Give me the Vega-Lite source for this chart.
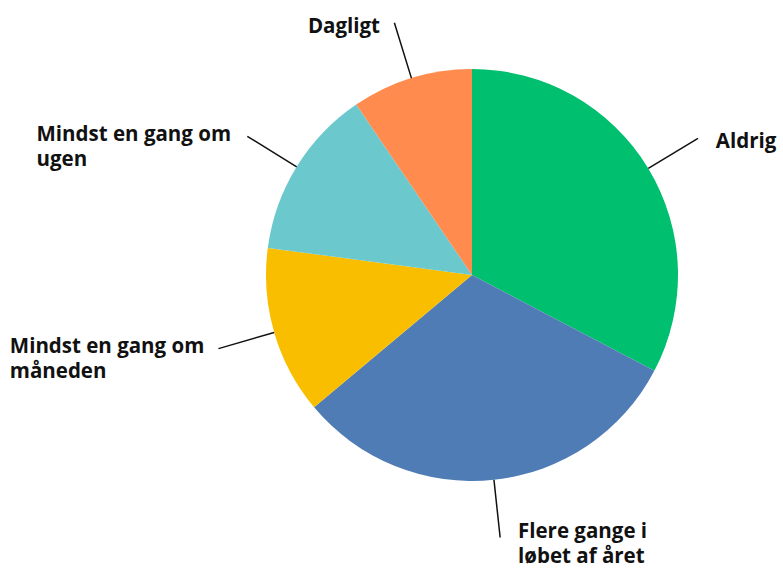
{
  "$schema": "https://vega.github.io/schema/vega-lite/v6.json",
  "width": 412,
  "height": 412,
  "autosize": "none",
  "padding": {"left": 266, "top": 69, "right": 105, "bottom": 89},
  "background": "white",
  "config": {"view": {"stroke": null}},
  "data": {
    "values": [
      {"category": "Aldrig", "label": "Aldrig", "value": 32.7},
      {"category": "Flere gange i løbet af året", "label": "Flere gange i\nløbet af året", "value": 31.2},
      {"category": "Mindst en gang om måneden", "label": "Mindst en gang om\nmåneden", "value": 13.2},
      {"category": "Mindst en gang om ugen", "label": "Mindst en gang om\nugen", "value": 13.4},
      {"category": "Dagligt", "label": "Dagligt", "value": 9.5}
    ]
  },
  "transform": [{"window": [{"op": "row_number", "as": "rank"}]}],
  "encoding": {
    "theta": {"field": "value", "type": "quantitative", "stack": true},
    "order": {"field": "rank", "type": "quantitative"}
  },
  "layer": [
    {
      "mark": {"type": "arc", "outerRadius": 206},
      "encoding": {
        "color": {
          "field": "category",
          "type": "nominal",
          "scale": {
            "domain": ["Aldrig", "Flere gange i løbet af året", "Mindst en gang om måneden", "Mindst en gang om ugen", "Dagligt"],
            "range": ["#00BF6F", "#507CB6", "#F9BE00", "#6BC8CD", "#FF8B4F"]
          },
          "legend": null
        }
      }
    },
    {
      "mark": {"type": "arc", "innerRadius": 206, "outerRadius": 264, "padAngle": 3, "stroke": "#111111", "strokeWidth": 1.5, "fillOpacity": 0},
      "encoding": {"detail": {"field": "category", "type": "nominal"}}
    },
    {
      "mark": {"type": "text", "radius": 272, "align": "left", "baseline": "middle", "dx": 11, "dy": 8, "font": "Open Sans", "fontWeight": "bold", "fontSize": 20.5, "lineBreak": "\n", "lineHeight": 25, "color": "#111111"},
      "encoding": {
        "detail": {"field": "category", "type": "nominal"},
        "text": {"condition": {"test": "datum.category === 'Aldrig'", "field": "label", "type": "nominal"}, "value": ""}
      }
    },
    {
      "mark": {"type": "text", "radius": 272, "align": "right", "baseline": "middle", "dx": -12, "dy": 12, "font": "Open Sans", "fontWeight": "bold", "fontSize": 20.5, "lineBreak": "\n", "lineHeight": 25, "color": "#111111"},
      "encoding": {
        "detail": {"field": "category", "type": "nominal"},
        "text": {"condition": {"test": "datum.category === 'Dagligt'", "field": "label", "type": "nominal"}, "value": ""}
      }
    },
    {
      "mark": {"type": "text", "radius": 272, "align": "left", "baseline": "middle", "dx": -204, "dy": 3, "font": "Open Sans", "fontWeight": "bold", "fontSize": 20.5, "lineBreak": "\n", "lineHeight": 25, "color": "#111111"},
      "encoding": {
        "detail": {"field": "category", "type": "nominal"},
        "text": {"condition": {"test": "datum.category === 'Mindst en gang om ugen'", "field": "label", "type": "nominal"}, "value": ""}
      }
    },
    {
      "mark": {"type": "text", "radius": 272, "align": "left", "baseline": "middle", "dx": -201, "dy": -4, "font": "Open Sans", "fontWeight": "bold", "fontSize": 20.5, "lineBreak": "\n", "lineHeight": 25, "color": "#111111"},
      "encoding": {
        "detail": {"field": "category", "type": "nominal"},
        "text": {"condition": {"test": "datum.category === 'Mindst en gang om måneden'", "field": "label", "type": "nominal"}, "value": ""}
      }
    },
    {
      "mark": {"type": "text", "radius": 272, "align": "left", "baseline": "middle", "dx": 17, "dy": -13, "font": "Open Sans", "fontWeight": "bold", "fontSize": 20.5, "lineBreak": "\n", "lineHeight": 25, "color": "#111111"},
      "encoding": {
        "detail": {"field": "category", "type": "nominal"},
        "text": {"condition": {"test": "datum.category === 'Flere gange i løbet af året'", "field": "label", "type": "nominal"}, "value": ""}
      }
    }
  ]
}
